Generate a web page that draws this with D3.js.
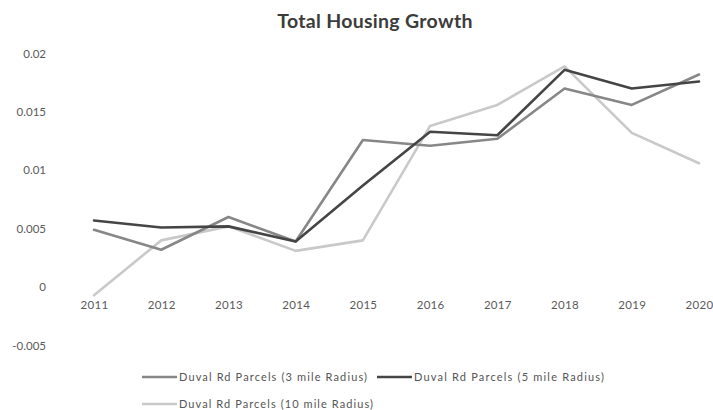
<!DOCTYPE html>
<html>
<head>
<meta charset="utf-8">
<script src="https://cdn.jsdelivr.net/npm/d3@7/dist/d3.min.js"></script>
<style>
  html, body { margin: 0; padding: 0; background: #ffffff; }
  svg { display: block; }
  text { font-family: Lato, "Open Sans", "Liberation Sans", sans-serif; }
</style>
</head>
<body>
<svg id="chart" width="713" height="410"></svg>
<script>
// Annual housing growth rate around the Duval Rd parcels
const years = ["2011", "2012", "2013", "2014", "2015", "2016", "2017", "2018", "2019", "2020"];
const radius3 = [0.0049, 0.0032, 0.0060, 0.0039, 0.0126, 0.0121, 0.0127, 0.0170, 0.0156, 0.0182];
const radius5 = [0.0057, 0.0051, 0.0052, 0.0039, 0.0087, 0.0133, 0.0130, 0.0186, 0.0170, 0.0176];
const radius10 = [-0.0007, 0.0040, 0.0052, 0.0031, 0.0040, 0.0138, 0.0156, 0.0189, 0.0132, 0.0106];
const seriesNames = [
  "Duval Rd Parcels (3 mile Radius)",
  "Duval Rd Parcels (5 mile Radius)",
  "Duval Rd Parcels (10 mile Radius)"
];
const yTicks = [-0.005, 0, 0.005, 0.01, 0.015, 0.02];
const yTickLabels = ["-0.005", "0", "0.005", "0.01", "0.015", "0.02"];

const series = [
  { name: seriesNames[0], values: radius3, color: "#878787" },
  { name: seriesNames[1], values: radius5, color: "#454545" },
  { name: seriesNames[2], values: radius10, color: "#c9c9c9" }
];

const svg = d3.select("#chart");

const x = d3.scalePoint().domain(years).range([94, 699]);
const y = d3.scaleLinear().domain([-0.005, 0.02]).range([345.5, 53.5]);

// Title
svg.append("text")
  .attr("x", 375)
  .attr("y", 28)
  .attr("text-anchor", "middle")
  .attr("font-size", 19.5)
  .attr("font-weight", "bold")
  .attr("letter-spacing", 0.3)
  .attr("fill", "#3c3c3c")
  .text("Total Housing Growth");

// Value axis
const yAxis = svg.append("g")
  .attr("transform", "translate(46,0)")
  .call(d3.axisLeft(y).tickValues(yTicks)
    .tickFormat((d, i) => yTickLabels[i]).tickSize(0).tickPadding(0));
yAxis.select(".domain").remove();
yAxis.selectAll("text")
  .attr("font-size", 11.5)
  .attr("fill", "#5a5a5a")
  .style("font-family", "Lato, sans-serif");

// Category axis crossing at zero
const xAxis = svg.append("g")
  .attr("transform", `translate(0,${y(0)})`)
  .call(d3.axisBottom(x).tickSize(0).tickPadding(14));
xAxis.select(".domain").remove();
xAxis.selectAll("text")
  .attr("font-size", 11.5)
  .attr("fill", "#5a5a5a")
  .attr("letter-spacing", 0.3)
  .style("font-family", "Lato, sans-serif");

// Series lines (light first so darker lines sit on top)
const line = d3.line()
  .x((d, i) => x(years[i]))
  .y(d => y(d));

[series[2], series[0], series[1]].forEach(s => {
  svg.append("path")
    .datum(s.values)
    .attr("fill", "none")
    .attr("stroke", s.color)
    .attr("stroke-width", 2.6)
    .attr("stroke-linejoin", "round")
    .attr("stroke-linecap", "round")
    .attr("d", line);
});

// Legend
const legendItems = [
  { s: series[0], x: 142, y: 377, w: 188 },
  { s: series[1], x: 377, y: 377, w: 190 },
  { s: series[2], x: 142, y: 404, w: 194 }
];
legendItems.forEach(item => {
  const g = svg.append("g").attr("transform", `translate(${item.x},${item.y})`);
  g.append("line")
    .attr("x1", 0).attr("x2", 35)
    .attr("y1", 0).attr("y2", 0)
    .attr("stroke", item.s.color)
    .attr("stroke-width", 2.6);
  g.append("text")
    .attr("x", 37)
    .attr("y", 0)
    .attr("dy", "0.35em")
    .attr("font-size", 11)
    .attr("fill", "#555")
    .attr("textLength", item.w)
    .attr("lengthAdjust", "spacing")
    .text(item.s.name);
});
</script>
</body>
</html>
